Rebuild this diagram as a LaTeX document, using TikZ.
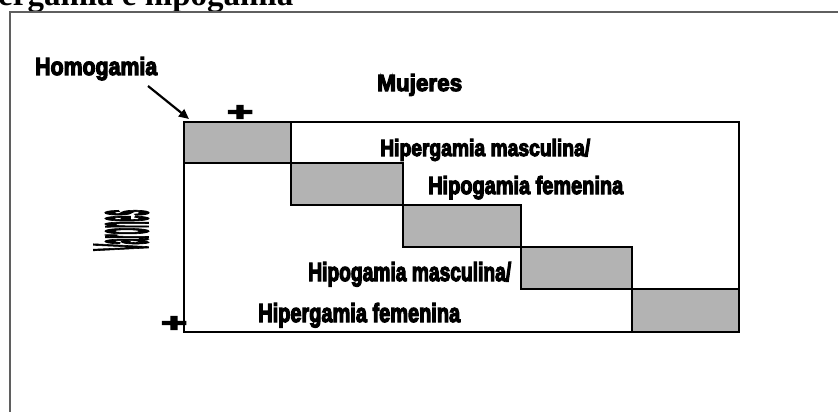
\documentclass[tikz,border=0pt]{standalone}
\usepackage{fontspec}
\setmainfont{Liberation Sans}
\newfontfamily\heavyfont[FakeBold=5]{Liberation Sans Bold}
\newfontfamily\titlefont{Liberation Serif}
\usetikzlibrary{arrows.meta}
\definecolor{cellgray}{RGB}{179,179,179}
\definecolor{framegray}{RGB}{95,95,95}
\newcommand\fitbox[3]{\resizebox{#1pt}{#2pt}{\heavyfont #3}}
\begin{document}
\begin{tikzpicture}[x=1pt,y=-1pt,
  lab/.style={inner sep=0pt, anchor=base west},
  plus/.style={inner sep=0pt, anchor=center},
  cell/.style={fill=cellgray, draw=black, line width=1.2pt},
  box/.style={draw=black, line width=1.3pt},
  arr/.style={line width=2.2pt, -{Triangle[length=10pt,width=9pt]}}]
\useasboundingbox (0,0) rectangle (838,412);
\clip (0,0) rectangle (838,412);
% title (cut at top, as in the reference)
\node[lab, font=\titlefont\bfseries\fontsize{33}{35}\selectfont] (title) at (-2,6) {ergamia e hipogamia};
% outer frame
\draw[framegray, line width=1.5pt] (10,412) -- (10,12) -- (838,12);
% grey cells
\draw[cell] (184,122) rectangle (291,163);
\draw[cell] (291,163) rectangle (403,205);
\draw[cell] (403,205) rectangle (521,247);
\draw[cell] (521,247) rectangle (632,289);
\draw[cell] (632,289) rectangle (739,332);
% main box
\draw[box] (184,122) rectangle (739,332);
% labels
\node[lab] (homo) at (35,75) {\fitbox{122}{18}{Homogamia}};
\node[lab] (muj) at (377,91) {\fitbox{85}{17}{Mujeres}};
\node[lab, rotate=90] (var) at (147,251) {\fitbox{41}{52}{Varones}};
\node[lab] (r1) at (380,156) {\fitbox{210}{17}{Hipergamia masculina/}};
\node[lab] (r2) at (428,194) {\fitbox{195}{18}{Hipogamia femenina}};
\node[lab] (r4) at (308,281) {\fitbox{203}{19}{Hipogamia masculina/}};
\node[lab] (r5) at (258,322) {\fitbox{202}{19}{Hipergamia femenina}};
\node[plus] (p1) at (240,113) {\fitbox{26}{15}{+}};
\node[plus] (p2) at (174,324) {\fitbox{26}{15}{+}};
% arrow
\coordinate (aS) at (148,86);
\coordinate (aE) at (189,119);
\draw[arr] (aS) -- (aE);
\end{tikzpicture}
\end{document}
